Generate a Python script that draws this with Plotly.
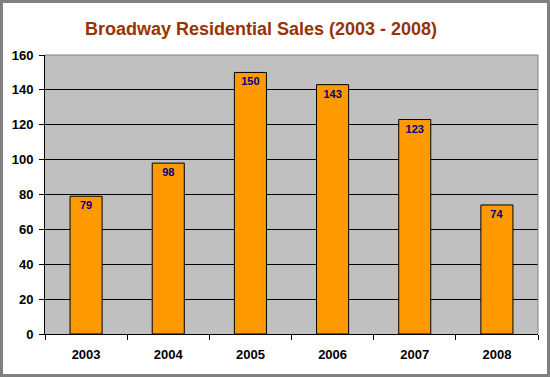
import plotly.graph_objects as go

years = ["2003", "2004", "2005", "2006", "2007", "2008"]
sales = [79, 98, 150, 143, 123, 74]
y_ticks = [0, 20, 40, 60, 80, 100, 120, 140, 160]

W, H = 550, 377
ML, MR, MT, MB = 45, 12, 55, 43
PW, PH = W - ML - MR, H - MT - MB

fig = go.Figure()
fig.add_trace(go.Bar(
    x=years, y=sales,
    marker=dict(color="#FF9900", line=dict(color="black", width=1)),
    text=[str(v) for v in sales],
    textposition="inside", insidetextanchor="end",
    textfont=dict(family="Arial, Liberation Sans", size=11, color="#000080", weight="bold"),
    cliponaxis=False,
    hoverinfo="skip",
))

def px_x(p):
    return (p - ML) / PW

def px_y(p):
    return 1 - (p - MT) / PH

shapes = [
    dict(type="line", xref="paper", yref="paper", x0=0, x1=1, y0=1, y1=1,
         line=dict(color="#808080", width=1)),
    dict(type="line", xref="paper", yref="paper", x0=1, x1=1, y0=0, y1=1,
         line=dict(color="#808080", width=1)),
    dict(type="rect", xref="paper", yref="paper",
         x0=px_x(1.5), x1=px_x(W - 1.5), y0=px_y(H - 1.5), y1=px_y(1.5),
         line=dict(color="#808080", width=3)),
]

fig.update_layout(
    width=W, height=H,
    margin=dict(l=ML, r=MR, t=MT, b=MB),
    paper_bgcolor="white", plot_bgcolor="#C0C0C0",
    bargap=0.61,
    showlegend=False,
    title=dict(text="Broadway Residential Sales (2003 - 2008)",
               x=261 / W, xanchor="center", y=1 - 29 / H, yanchor="middle",
               font=dict(family="Arial, Liberation Sans", size=18, color="#993300", weight="bold")),
    font=dict(family="Arial, Liberation Sans", size=12, color="black"),
    shapes=shapes,
    xaxis=dict(showline=True, linecolor="black", linewidth=1,
               ticks="outside", tickson="boundaries", ticklen=5, tickcolor="black",
               tickfont=dict(size=13, weight="bold"), showgrid=False,
               ticklabelstandoff=8),
    yaxis=dict(range=[0, 160], tickvals=y_ticks, showline=True, linecolor="black",
               linewidth=1, ticks="outside", ticklen=5, tickcolor="black",
               showgrid=True, gridcolor="black", gridwidth=1, zeroline=False,
               tickfont=dict(size=13, weight="bold"), ticklabelstandoff=3),
)

fig.write_html("out.html", config={"displayModeBar": False},
               post_script="document.body.style.margin='0';document.body.style.overflow='hidden';")
